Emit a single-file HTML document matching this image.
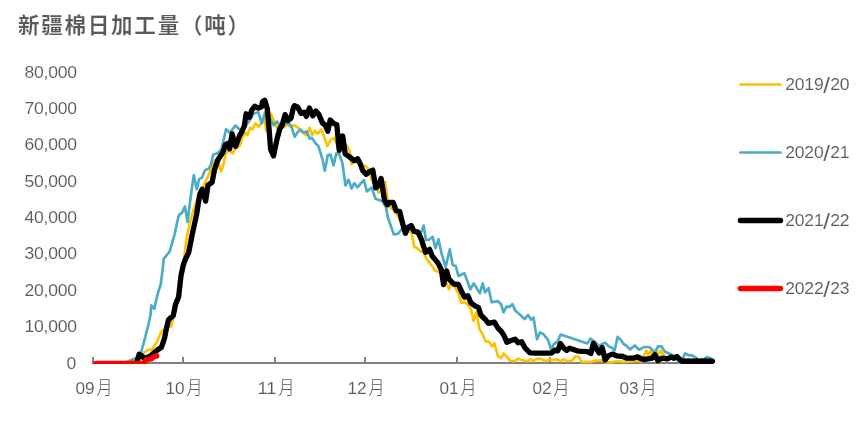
<!DOCTYPE html>
<html lang="zh-CN"><head><meta charset="utf-8"><title>新疆棉日加工量（吨）</title>
<style>
html,body{margin:0;padding:0;background:#fff;}
body{width:861px;height:422px;overflow:hidden;}
svg{display:block;}
text{font-family:"Liberation Sans","Noto Sans CJK SC",sans-serif;fill:#595959;}
.t{font-family:"Noto Sans CJK SC","Liberation Sans",sans-serif;font-weight:bold;font-size:21.6px;letter-spacing:1.7px;stroke:#fff;stroke-width:0.18px;paint-order:fill stroke;}
.n{font-size:16.4px;letter-spacing:-0.2px;stroke:#fff;stroke-width:0.1px;paint-order:fill stroke;}
.s{font-size:22.8px;}
.x{letter-spacing:0;}
.m{font-family:"Noto Sans CJK SC","Liberation Sans",sans-serif;font-weight:300;font-size:18.6px;stroke:none;}
.l{fill:none;stroke-linejoin:round;stroke-linecap:round;}
</style></head><body>
<svg width="861" height="422" viewBox="0 0 861 422">
<rect width="861" height="422" fill="#ffffff"/>
<text class="t" x="17.9" y="33.2">新疆棉日加工量（吨）</text>
<text class="n" transform="translate(76.8,77.5) scale(1.07,1)" text-anchor="end">80,000</text>
<text class="n" transform="translate(76.8,113.9) scale(1.07,1)" text-anchor="end">70,000</text>
<text class="n" transform="translate(76.8,150.3) scale(1.07,1)" text-anchor="end">60,000</text>
<text class="n" transform="translate(76.8,186.7) scale(1.07,1)" text-anchor="end">50,000</text>
<text class="n" transform="translate(76.8,223.0) scale(1.07,1)" text-anchor="end">40,000</text>
<text class="n" transform="translate(76.8,259.4) scale(1.07,1)" text-anchor="end">30,000</text>
<text class="n" transform="translate(76.8,295.8) scale(1.07,1)" text-anchor="end">20,000</text>
<text class="n" transform="translate(76.8,332.1) scale(1.07,1)" text-anchor="end">10,000</text>
<text class="n" transform="translate(76.0,368.5) scale(1.07,1)" text-anchor="end">0</text>
<g fill="#808080">
<rect x="92" y="362" width="621.5" height="2"/>
<rect x="92.0" y="357" width="2" height="6"/>
<rect x="182.0" y="357" width="2" height="6"/>
<rect x="274.0" y="357" width="2" height="6"/>
<rect x="364.0" y="357" width="2" height="6"/>
<rect x="456.0" y="357" width="2" height="6"/>
<rect x="549.0" y="357" width="2" height="6"/>
<rect x="636.0" y="357" width="2" height="6"/>
</g>
<text class="n x" x="75.4" y="394"><tspan textLength="19.1" lengthAdjust="spacingAndGlyphs">09</tspan><tspan class="m" dx="1.9" dy="0.3" textLength="16" lengthAdjust="spacingAndGlyphs">月</tspan></text>
<text class="n x" x="165.4" y="394"><tspan textLength="19.1" lengthAdjust="spacingAndGlyphs">10</tspan><tspan class="m" dx="1.9" dy="0.3" textLength="16" lengthAdjust="spacingAndGlyphs">月</tspan></text>
<text class="n x" x="257.4" y="394"><tspan textLength="19.1" lengthAdjust="spacingAndGlyphs">11</tspan><tspan class="m" dx="1.9" dy="0.3" textLength="16" lengthAdjust="spacingAndGlyphs">月</tspan></text>
<text class="n x" x="347.4" y="394"><tspan textLength="19.1" lengthAdjust="spacingAndGlyphs">12</tspan><tspan class="m" dx="1.9" dy="0.3" textLength="16" lengthAdjust="spacingAndGlyphs">月</tspan></text>
<text class="n x" x="439.4" y="394"><tspan textLength="19.1" lengthAdjust="spacingAndGlyphs">01</tspan><tspan class="m" dx="1.9" dy="0.3" textLength="16" lengthAdjust="spacingAndGlyphs">月</tspan></text>
<text class="n x" x="532.4" y="394"><tspan textLength="19.1" lengthAdjust="spacingAndGlyphs">02</tspan><tspan class="m" dx="1.9" dy="0.3" textLength="16" lengthAdjust="spacingAndGlyphs">月</tspan></text>
<text class="n x" x="619.4" y="394"><tspan textLength="19.1" lengthAdjust="spacingAndGlyphs">03</tspan><tspan class="m" dx="1.9" dy="0.3" textLength="16" lengthAdjust="spacingAndGlyphs">月</tspan></text>
<clipPath id="pc"><rect x="0" y="0" width="861" height="364"/></clipPath>
<g clip-path="url(#pc)">
<polyline class="l" stroke="#FFC000" stroke-width="2.67" points="96.0,362.6 125.0,362.4 129.5,360.6 137.0,359.5 141.0,357.0 143.7,353.0 147.3,350.2 152.0,349.4 156.7,342.3 161.5,331.6 166.0,328.0 171.0,326.8 172.7,321.0 175.4,306.0 178.4,297.0 179.6,286.3 181.0,275.7 183.0,265.0 184.6,255.0 186.0,243.0 187.2,235.1 190.2,222.0 192.0,214.8 195.5,204.0 200.0,196.0 205.0,182.8 209.8,172.1 212.1,166.2 215.0,160.0 218.5,163.0 221.0,171.5 223.4,165.0 225.5,154.1 229.0,150.0 232.7,153.5 236.0,148.0 239.8,145.8 242.7,136.9 245.7,132.8 247.5,135.1 250.2,127.8 252.6,129.3 255.4,123.4 258.6,127.0 261.4,122.9 264.4,118.2 266.2,130.8 268.5,124.0 270.9,114.0 273.8,120.5 276.8,127.7 279.5,124.5 282.0,125.5 284.5,127.1 288.0,124.0 290.0,126.6 294.7,125.4 298.3,127.8 301.8,131.9 306.0,134.9 309.5,127.8 311.9,134.9 314.9,130.7 317.8,133.7 321.4,129.5 324.4,137.3 327.3,146.1 330.9,139.6 333.8,137.8 336.2,143.2 339.0,148.0 342.0,146.0 344.5,147.0 346.9,145.5 349.8,151.5 351.5,164.2 354.5,160.0 357.5,158.0 360.5,163.0 363.0,166.0 365.7,166.0 368.6,169.0 371.6,179.6 375.0,184.0 378.7,192.7 381.5,189.0 385.2,182.0 387.6,199.8 390.8,207.8 394.3,210.3 397.0,214.5 401.2,222.0 404.0,228.0 408.0,230.0 411.8,233.3 414.2,246.9 417.2,248.1 420.1,251.1 423.7,252.3 425.5,257.0 428.4,261.7 432.0,265.9 435.0,270.6 439.1,271.8 443.0,276.0 446.0,282.0 449.0,289.3 451.9,280.4 455.5,288.1 458.4,293.4 461.4,302.9 464.4,301.7 467.9,304.7 470.9,308.8 473.6,320.9 476.4,312.4 479.5,329.2 482.5,334.0 485.5,341.1 489.0,341.7 492.0,346.4 494.4,343.4 497.9,355.9 500.9,358.2 503.8,353.5 506.8,356.5 509.8,360.6 514.5,361.2 518.1,358.8 521.6,360.0 527.5,361.2 530.5,359.4 533.5,361.2 537.0,358.8 540.6,358.8 545.3,361.2 550.0,359.4 553.6,360.0 557.2,359.4 560.7,361.2 563.7,359.4 567.3,361.0 572.0,361.0 575.0,356.5 578.5,356.5 581.5,361.8 591.0,361.8 595.7,360.6 602.8,360.3 605.2,362.4 611.0,362.4 617.0,361.2 623.0,361.8 630.0,361.5 637.8,360.6 640.7,361.8 643.9,356.0 646.2,350.6 648.3,354.6 650.4,350.9 652.6,356.2 655.1,349.8 657.7,355.2 660.4,350.6 664.4,355.9 667.5,358.8 672.0,358.0 680.0,360.2 690.0,360.8 711.0,361.0"/>
<polyline class="l" stroke="#4BACC6" stroke-width="2.67" points="96.0,362.6 128.0,362.4 131.8,360.0 136.0,358.0 141.3,351.7 145.5,336.3 148.4,324.5 150.5,315.0 151.3,305.3 154.3,308.8 157.8,293.4 160.8,284.0 162.6,269.7 163.4,262.0 163.7,258.8 169.6,251.7 174.4,235.1 178.5,216.2 179.5,214.5 181.9,213.0 184.9,206.5 187.6,222.0 190.8,195.8 193.8,175.1 196.7,189.3 199.1,179.2 202.1,177.4 205.0,170.3 208.6,168.6 211.0,164.5 213.1,154.7 217.8,152.9 221.4,149.4 226.1,129.2 229.7,132.8 235.4,125.5 240.5,130.2 244.0,128.0 249.1,121.3 253.7,113.4 258.4,112.3 261.8,123.5 265.0,112.3 267.5,116.0 270.3,119.4 273.7,125.2 276.9,121.6 279.8,124.7 283.0,124.0 288.1,123.5 291.0,125.3 294.7,136.7 297.5,132.4 300.3,129.4 303.8,132.5 306.8,131.5 309.5,138.4 311.9,137.8 315.5,143.2 318.4,146.1 320.8,153.8 322.6,159.8 324.8,170.7 327.8,155.3 330.5,154.5 333.5,165.4 336.3,153.4 339.2,154.3 342.4,163.0 345.5,185.5 348.5,179.6 351.5,188.5 354.4,183.2 357.4,187.3 360.4,183.8 363.9,180.2 366.9,191.5 371.7,187.5 375.5,198.8 382.5,201.3 386.1,207.8 387.8,217.3 393.8,234.4 397.9,233.8 401.5,229.7 405.0,226.0 408.0,228.0 411.0,229.7 415.0,233.0 419.2,235.0 421.3,232.1 423.6,225.5 426.0,240.0 429.0,239.8 432.6,236.8 435.5,248.1 438.5,239.2 441.5,253.4 445.6,267.1 449.8,249.3 452.7,265.3 455.6,265.7 458.5,276.0 464.4,273.2 467.9,282.8 470.3,289.3 473.8,283.4 479.8,293.4 482.7,283.4 485.1,292.3 488.6,288.1 491.6,302.3 497.5,301.1 501.1,304.1 503.5,312.4 506.4,306.5 509.4,307.1 512.3,304.1 515.3,310.6 518.0,313.0 520.4,315.0 524.6,319.1 528.1,315.0 531.1,319.7 533.5,317.4 537.0,339.3 540.0,332.5 543.3,334.0 548.0,339.9 551.0,349.4 554.0,344.0 557.2,342.0 560.7,334.5 587.4,343.4 590.4,338.7 594.0,341.0 597.0,344.0 599.2,346.4 602.0,344.0 605.2,342.8 608.7,346.4 611.7,347.6 614.6,350.5 617.6,336.9 620.5,339.5 623.5,344.0 625.9,345.2 630.0,349.4 634.8,345.5 639.0,349.7 644.3,347.0 649.0,347.0 651.4,348.8 655.0,353.5 657.9,346.4 661.5,346.4 665.0,351.7 668.6,353.5 672.1,354.7 676.0,358.0 679.2,362.4 682.2,358.8 685.2,353.5 688.7,355.3 692.3,355.3 695.8,357.7 699.0,360.5 703.0,359.5 707.1,357.1 711.2,358.8 713.6,360.6"/>
<polyline class="l" stroke="#000000" stroke-width="5.33" points="136.8,363.0 139.2,354.3 142.0,356.0 144.3,358.4 147.7,357.4 151.0,355.6 155.5,351.6 158.5,349.2 161.5,347.2 164.4,338.7 166.8,326.8 168.6,319.7 173.3,315.5 175.6,304.1 178.6,297.0 179.8,286.3 181.0,275.7 183.3,265.0 185.6,258.8 188.6,252.9 192.1,235.1 196.5,215.0 199.7,194.6 202.1,189.3 205.6,201.1 208.0,185.1 212.1,182.2 214.5,169.7 216.5,164.0 217.8,160.0 223.2,151.7 225.5,144.6 227.9,143.4 229.7,148.8 232.1,134.0 235.6,146.4 239.8,135.1 241.5,132.4 244.3,126.0 246.1,113.8 249.5,117.2 251.9,109.9 254.9,106.3 258.4,108.1 261.4,106.9 262.6,101.6 264.7,100.2 267.3,108.7 269.0,128.0 270.6,149.4 273.5,155.9 277.1,138.7 279.8,128.8 282.1,125.3 285.1,114.6 288.1,120.5 291.0,118.2 293.4,107.5 294.6,105.7 297.5,106.9 301.1,113.4 304.1,112.3 306.4,116.4 309.4,108.1 312.9,115.8 315.9,111.1 318.9,114.6 322.4,122.9 325.4,125.3 327.8,131.3 330.2,120.0 333.8,123.6 336.8,124.8 339.2,150.3 342.7,136.0 345.2,153.8 349.5,156.9 354.2,160.8 357.6,158.8 360.4,164.2 362.7,170.7 366.3,174.3 369.2,171.9 372.8,170.1 375.8,187.9 378.7,185.5 381.1,178.4 382.8,189.0 384.4,199.6 387.3,204.8 389.6,202.4 393.2,202.4 396.1,210.7 399.7,211.3 402.2,222.0 405.4,233.4 408.0,227.3 411.2,225.6 414.0,231.2 418.0,232.1 421.4,239.4 425.5,252.3 429.6,249.3 432.0,255.8 437.9,262.9 441.3,269.7 443.6,284.5 446.6,270.9 449.0,279.2 453.7,284.0 458.4,284.5 461.4,291.1 464.4,297.0 467.9,295.8 470.9,302.9 475.0,305.9 478.6,307.7 480.8,315.0 485.5,319.7 488.4,323.3 494.4,322.1 497.9,328.0 501.5,331.6 504.4,336.3 506.8,342.3 510.9,340.5 515.1,339.3 518.1,342.8 521.6,341.7 525.2,348.2 529.9,352.9 535.8,353.2 551.5,353.1 554.8,350.2 557.8,350.8 560.4,343.4 563.7,348.2 566.7,350.5 569.6,348.2 577.9,351.1 587.4,351.7 590.9,353.5 593.3,343.4 596.3,348.8 599.2,352.9 602.2,347.6 605.2,360.0 608.1,355.9 612.3,354.1 617.0,355.9 622.9,356.5 626.8,358.2 633.8,358.0 637.5,356.8 641.3,358.8 644.9,359.4 652.0,358.2 655.0,354.7 657.9,360.6 661.5,358.2 667.4,358.8 671.0,357.1 673.9,358.2 676.9,356.5 680.4,360.2 682.5,361.4 684.6,360.9 686.7,361.6 688.8,360.9 690.9,361.6 693.0,360.9 695.1,361.6 697.2,360.9 699.3,361.6 701.4,360.9 703.5,361.6 705.6,360.9 707.7,361.6 709.8,360.9 711.9,361.6 712.4,361.3"/>
<polyline class="l" stroke="#FF0000" stroke-width="5.33" points="95.8,363.5 143.8,363.5 146.0,360.0 148.5,359.2 151.5,358.8 153.5,357.0 155.0,356.2 156.8,356.0"/>
</g>
<line class="l" x1="740.4" y1="84.5" x2="780.5" y2="84.5" stroke="#FFC000" stroke-width="2.67"/>
<text class="n" transform="translate(785.3,90.0) scale(1.07,1)">2019<tspan class="s" dx="-0.2" dy="2.9">/</tspan><tspan dx="0.5" dy="-2.9">20</tspan></text>
<line class="l" x1="740.4" y1="152.5" x2="780.5" y2="152.5" stroke="#4BACC6" stroke-width="2.67"/>
<text class="n" transform="translate(785.3,158.0) scale(1.07,1)">2020<tspan class="s" dx="-0.2" dy="2.9">/</tspan><tspan dx="0.5" dy="-2.9">21</tspan></text>
<line class="l" x1="740.4" y1="220.5" x2="780.5" y2="220.5" stroke="#000000" stroke-width="5.33"/>
<text class="n" transform="translate(785.3,226.0) scale(1.07,1)">2021<tspan class="s" dx="-0.2" dy="2.9">/</tspan><tspan dx="0.5" dy="-2.9">22</tspan></text>
<line class="l" x1="740.4" y1="288.5" x2="780.5" y2="288.5" stroke="#FF0000" stroke-width="5.33"/>
<text class="n" transform="translate(785.3,294.0) scale(1.07,1)">2022<tspan class="s" dx="-0.2" dy="2.9">/</tspan><tspan dx="0.5" dy="-2.9">23</tspan></text>
</svg>
</body></html>
